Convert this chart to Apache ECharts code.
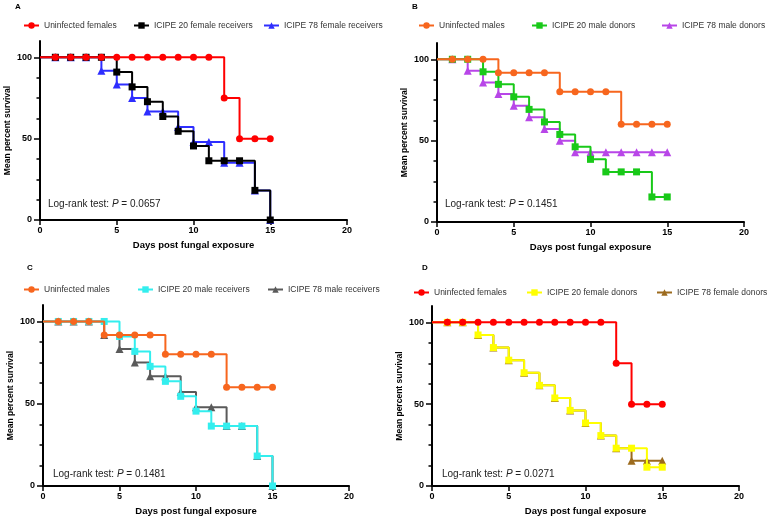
<!DOCTYPE html>
<html>
<head>
<meta charset="utf-8">
<title>Survival curves</title>
<script src="https://cdn.jsdelivr.net/npm/echarts@6/dist/echarts.min.js"></script>
<style>
  html, body { margin: 0; padding: 0; background: #fff; }
  #chart { width: 767px; height: 518px; }
</style>
</head>
<body>
<div id="chart"></div>
<script>
// days post exposure (day 0 is the start of each curve)
const days = [0, 1, 2, 3, 4, 5, 6, 7, 8, 9, 10, 11, 12, 13, 14, 15];

// A
const uninfectedFemales = [100, 100, 100, 100, 100, 100, 100, 100, 100, 100, 100, 100, 75, 50, 50, 50];
const icipe20FemaleReceivers = [100, 100, 100, 100, 100, 90.9, 81.8, 72.7, 63.6, 54.5, 45.5, 36.4, 36.4, 36.4, 18.2, 0];
const icipe78FemaleReceivers = [100, 100, 100, 100, 91.7, 83.3, 75, 66.7, 66.7, 57.1, 47.9, 47.9, 35.2, 35.2, 18.2, 0];

// B
const uninfectedMales = [100, 100, 100, 100, 91.7, 91.7, 91.7, 91.7, 80, 80, 80, 80, 60, 60, 60, 60];
const icipe20MaleDonors = [100, 100, 100, 92.3, 84.6, 76.9, 69.2, 61.5, 53.8, 46.2, 38.5, 30.8, 30.8, 30.8, 15.4, 15.4];
const icipe78MaleDonors = [100, 100, 92.9, 85.7, 78.6, 71.4, 64.3, 57.1, 50, 42.9, 42.9, 42.9, 42.9, 42.9, 42.9, 42.9];

// C
const icipe20MaleReceivers = [100, 100, 100, 100, 100, 90.9, 81.8, 72.7, 63.6, 54.5, 45.5, 36.4, 36.4, 36.4, 18.2, 0];
const icipe78MaleReceivers = [100, 100, 100, 100, 91.7, 83.3, 75, 66.7, 66.7, 57.1, 47.9, 47.9, 36.4, 36.4, 18.2, 0];

// D
const icipe20FemaleDonors = [100, 100, 100, 92.3, 84.6, 76.9, 69.2, 61.5, 53.8, 46.2, 38.5, 30.8, 23.1, 23.1, 11.5, 11.5];
const icipe78FemaleDonors = [100, 100, 100, 92.3, 84.6, 76.9, 69.2, 61.5, 53.8, 46.2, 38.5, 30.8, 23.1, 15.4, 15.4, 15.4];

const pValues = ['0.0657', '0.1451', '0.1481', '0.0271'];
const yTicks = [0, 12.5, 25, 37.5, 50, 62.5, 75, 87.5, 100];
const yLabels = [0, 50, 100];

const FONT = 'Liberation Sans, Arial, sans-serif';

const panels = [
  {
    letter: 'A', letterPos: [15, 3],
    grid: { left: 40, top: 41, width: 307, height: 179 },
    pPos: [48, 199],
    legendTop: 21, legendLeft: [23, 133, 263],
    series: [
      { name: 'Uninfected females', values: uninfectedFemales, color: '#ff0000', symbol: 'circle' },
      { name: 'ICIPE 20 female receivers', values: icipe20FemaleReceivers, color: '#000000', symbol: 'rect' },
      { name: 'ICIPE 78 female receivers', values: icipe78FemaleReceivers, color: '#2e2eff', symbol: 'triangle' }
    ]
  },
  {
    letter: 'B', letterPos: [412, 3],
    grid: { left: 437, top: 43, width: 307, height: 179 },
    pPos: [445, 199],
    legendTop: 21, legendLeft: [418, 531, 661],
    series: [
      { name: 'Uninfected males', values: uninfectedMales, color: '#f7661e', symbol: 'circle' },
      { name: 'ICIPE 20 male donors', values: icipe20MaleDonors, color: '#19c919', symbol: 'rect' },
      { name: 'ICIPE 78 male donors', values: icipe78MaleDonors, color: '#b846e8', symbol: 'triangle' }
    ]
  },
  {
    letter: 'C', letterPos: [27, 264],
    grid: { left: 43, top: 305, width: 306, height: 181 },
    pPos: [53, 469],
    legendTop: 285, legendLeft: [23, 137, 267],
    series: [
      { name: 'Uninfected males', values: uninfectedMales, color: '#f7661e', symbol: 'circle' },
      { name: 'ICIPE 20 male receivers', values: icipe20MaleReceivers, color: '#33eeee', symbol: 'rect' },
      { name: 'ICIPE 78 male receivers', values: icipe78MaleReceivers, color: '#5a5a5a', symbol: 'triangle' }
    ]
  },
  {
    letter: 'D', letterPos: [422, 264],
    grid: { left: 432, top: 306, width: 307, height: 180 },
    pPos: [442, 469],
    legendTop: 288, legendLeft: [413, 526, 656],
    series: [
      { name: 'Uninfected females', values: uninfectedFemales, color: '#ff0000', symbol: 'circle' },
      { name: 'ICIPE 20 female donors', values: icipe20FemaleDonors, color: '#ffff00', symbol: 'rect' },
      { name: 'ICIPE 78 female donors', values: icipe78FemaleDonors, color: '#9c6b1e', symbol: 'triangle' }
    ]
  }
];

const axisLine = { show: true, lineStyle: { color: '#000', width: 2 } };
const tickLabel = { color: '#000', fontSize: 9, fontWeight: 'bold', fontFamily: FONT };

const grid = [], xAxis = [], yAxis = [], series = [], legend = [], title = [];

panels.forEach((p, i) => {
  grid.push(p.grid);

  xAxis.push({
    gridIndex: i, type: 'value', min: 0, max: 20, interval: 5,
    axisLine: axisLine,
    axisTick: { show: true, length: 5, lineStyle: { color: '#000', width: 1.5 } },
    axisLabel: Object.assign({ margin: 6 }, tickLabel),
    splitLine: { show: false },
    name: 'Days post fungal exposure', nameLocation: 'middle', nameGap: 20,
    nameTextStyle: { color: '#000', fontSize: 9.5, fontWeight: 'bold', fontFamily: FONT }
  });

  // minor ticks + axis line
  yAxis.push({
    gridIndex: i, type: 'value', position: 'left', min: 0, max: 110,
    axisLine: axisLine,
    axisTick: { show: true, customValues: yTicks, length: 3.5, lineStyle: { color: '#000', width: 1.5 } },
    axisLabel: { show: false },
    splitLine: { show: false }
  });
  // labelled ticks + axis name
  yAxis.push({
    gridIndex: i, type: 'value', position: 'left', offset: 0, min: 0, max: 110,
    axisLine: { show: false },
    axisTick: { show: true, customValues: yLabels, length: 6, lineStyle: { color: '#000', width: 1.5 } },
    axisLabel: Object.assign({ customValues: yLabels, margin: 8 }, tickLabel),
    splitLine: { show: false },
    name: 'Mean percent survival', nameLocation: 'middle', nameGap: 28,
    nameTextStyle: { color: '#000', fontSize: 8.5, fontWeight: 'bold', fontFamily: FONT }
  });

  p.series.forEach((s, k) => {
    series.push({
      type: 'line', name: s.name,
      xAxisIndex: i, yAxisIndex: 2 * i,
      step: 'end',
      data: days.map((d, j) => j === 0 ? { value: [d, s.values[j]], symbol: 'none' } : [d, s.values[j]]),
      symbol: s.symbol,
      symbolSize: s.symbol === 'triangle' ? 8 : 7,
      showAllSymbol: true,
      lineStyle: { color: s.color, width: 2 },
      itemStyle: { color: s.color },
      z: 6 - k,
      animation: false
    });

    legend.push({
      data: [s.name],
      left: p.legendLeft[k], top: p.legendTop,
      padding: 0, itemGap: 0, itemWidth: 15, itemHeight: 8, itemTextGap: 5,
      selectedMode: false,
      textStyle: { color: '#333', fontSize: 8.5, fontFamily: FONT }
    });
  });

  title.push({
    text: p.letter, left: p.letterPos[0], top: p.letterPos[1], padding: 0,
    textStyle: { color: '#000', fontSize: 8, fontWeight: 'bold', fontFamily: FONT }
  });
  title.push({
    text: 'Log-rank test: {i|P} = ' + pValues[i],
    left: p.pPos[0], top: p.pPos[1], padding: 0,
    textStyle: {
      color: '#222', fontSize: 10, fontWeight: 'normal', fontFamily: FONT,
      rich: { i: { fontStyle: 'italic', fontSize: 10, color: '#222', fontFamily: FONT } }
    }
  });
});

const chart = echarts.init(document.getElementById('chart'));
chart.setOption({
  animation: false,
  backgroundColor: '#fff',
  title, legend, grid, xAxis, yAxis, series
});
</script>
</body>
</html>
